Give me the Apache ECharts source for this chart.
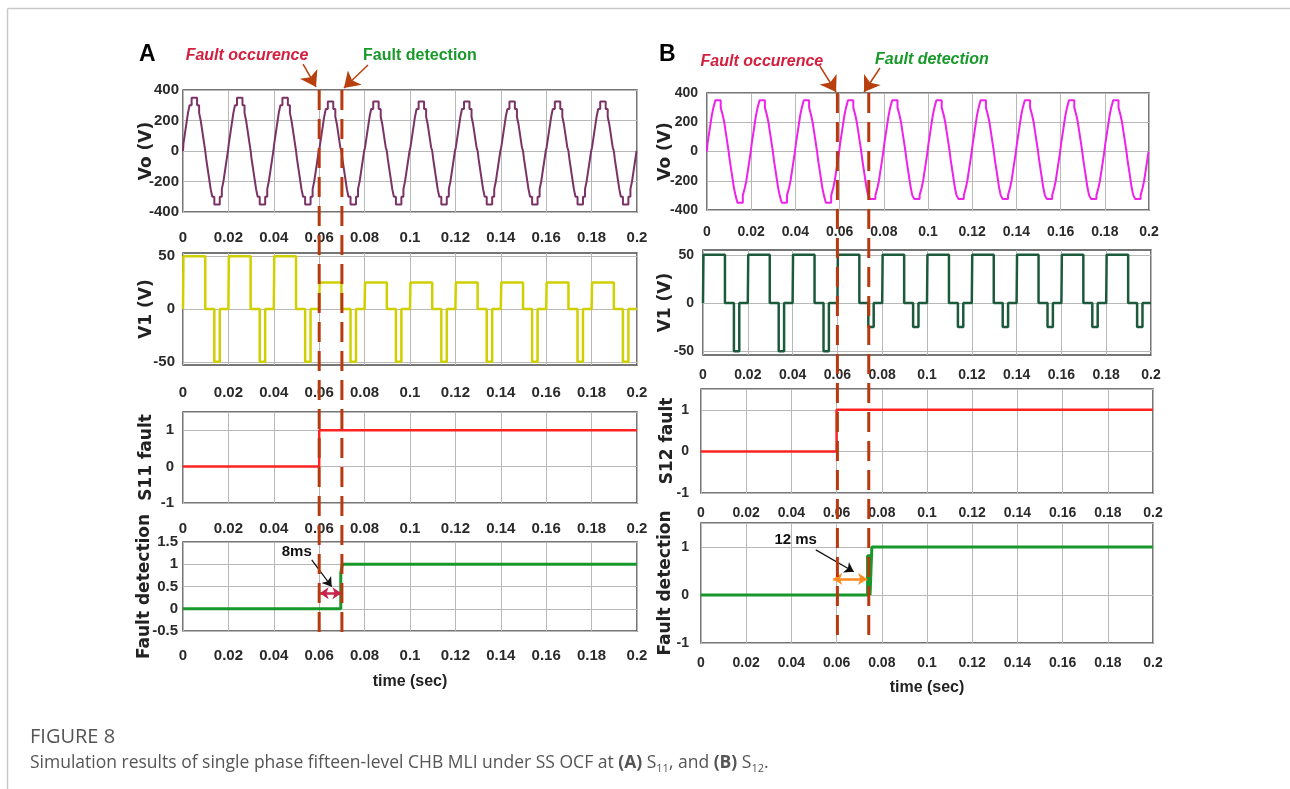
<!DOCTYPE html>
<html>
<head>
<meta charset="utf-8">
<script src="https://cdn.jsdelivr.net/npm/echarts@6/dist/echarts.min.js"></script>
<style>
  html, body { margin: 0; padding: 0; background: #ffffff; }
  #chart { width: 1290px; height: 789px; }
</style>
</head>
<body>
<div id="chart"></div>
<script>
// ---- time base ----
const timeMin = 0;
const timeMax = 0.2;
const timeStep = 0.02;
const period = 0.02;          // 50 Hz
const cycleCount = 10;

// ---- 15-level staircase: switch-on instants in the first quarter cycle (s) and the level reached (V) ----
const stairOn = [0.0002, 0.0007, 0.0012, 0.0017, 0.0022, 0.0029, 0.0038];
const stairLevel = [50, 100, 150, 200, 250, 300, 350];

// ---- cell 1 output: edges inside one cycle (s) -> [+on, +off, -on, -off] ----
const v1Edges = [0.0002, 0.0098, 0.0138, 0.0162];
const v1Nominal = 50;

// cell 1 positive / negative level in each cycle (V)
const v1PosA = [50, 50, 50, 25, 25, 25, 25, 25, 25, 25];
const v1NegA = [-50, -50, -50, -50, -50, -50, -50, -50, -50, -50];
const v1PosB = [50, 50, 50, 50, 50, 50, 50, 50, 50, 50];
const v1NegB = [-50, -50, -50, -25, -25, -25, -25, -25, -25, -25];

// ---- fault instants ----
const faultTimeA = 0.06, detectTimeA = 0.07;
const faultTimeB = 0.06, detectTimeB = 0.074;

// ---- switch fault flags and detector outputs [t, value] ----
const s11Fault = [[0, 0], [0.06, 0], [0.06, 1], [0.2, 1]];
const detectA = [[0, 0], [0.0695, 0], [0.0695, 0.8], [0.0702, 0.8], [0.0702, 1], [0.2, 1]];
const s12Fault = [[0, 0], [0.06, 0], [0.06, 1], [0.2, 1]];
const detectB = [[0, 0], [0.0737, 0], [0.0737, 0.82], [0.0748, 0.82], [0.0748, 0], [0.0756, 0], [0.0756, 1], [0.2, 1]];

// ---- tick labels ----
const v1Ticks = [-50, 0, 50];

// ---------- waveform assembly ----------
function stairAt(tc) {
  const half = period / 2;
  const sign = tc < half ? 1 : -1;
  const u = tc < half ? tc : tc - half;
  const d = Math.min(u, half - u);
  let lvl = 0;
  for (let i = 0; i < stairOn.length; i++) if (d >= stairOn[i]) lvl = stairLevel[i];
  return sign * lvl;
}
function v1At(tc, pos, neg) {
  if (tc >= v1Edges[0] && tc < v1Edges[1]) return pos;
  if (tc >= v1Edges[2] && tc < v1Edges[3]) return neg;
  return 0;
}
// withStair=false -> cell 1 voltage, true -> total output voltage
function buildWave(posLv, negLv, withStair) {
  const half = period / 2;
  const offs = [0].concat(v1Edges);
  if (withStair) stairOn.forEach(s => offs.push(s, half - s, half + s, period - s));
  const uniq = Array.from(new Set(offs.map(o => +o.toFixed(6)))).sort((a, b) => a - b);
  const pts = [];
  for (let k = 0; k < cycleCount; k++) {
    const t0 = k * period;
    uniq.forEach(o => {
      const u = o + 1e-7;
      let v = v1At(u, posLv[k], negLv[k]);
      if (withStair) v += stairAt(u) - v1At(u, v1Nominal, -v1Nominal);
      pts.push([+(t0 + o).toFixed(6), v]);
    });
  }
  pts.push([timeMax, pts[pts.length - 1][1]]);
  return pts;
}

const voA = buildWave(v1PosA, v1NegA, true);
const v1A = buildWave(v1PosA, v1NegA, false);
const voB = buildWave(v1PosB, v1NegB, true);
const v1B = buildWave(v1PosB, v1NegB, false);

// ---------- styling ----------
const TICKF = "'Liberation Sans', Arial, sans-serif";
const WIDE = "'DejaVu Sans', Verdana, sans-serif";
const GRID_LINE = '#b8b8b8';
const BOX = '#4a4a4a';
const DASH = '#b9390f';
const ARROW = '#b8400f';

const fmt = v => String(+(+v).toFixed(2));
function labelStyle(margin, size) {
  return { fontFamily: TICKF, fontWeight: 'bold', fontSize: size, color: '#2a2a2a', margin: margin, formatter: fmt };
}

// overlay panels: y = 0 at the bottom of the lowest plot, 1 at the top of the upper plot
const ovMax = 1.1;
function overlayGrid(left, width, top, bottom) {
  const h = bottom - top;
  return { left: left, width: width, top: top - (ovMax - 1) * h, height: ovMax * h, show: false };
}
function box(left, width, top, height) {
  return { left: left, width: width, top: top, height: height, show: true, borderColor: BOX, borderWidth: 1.5, backgroundColor: 'transparent' };
}

const grids = [
  box(183, 454, 90, 122),   // 0  A Vo
  box(183, 454, 253, 112),  // 1  A V1
  box(183, 454, 412, 91),   // 2  A S11
  box(183, 454, 542, 89),   // 3  A detection
  overlayGrid(183, 454, 90, 637), // 4 A overlay
  box(707, 442, 93, 117),   // 5  B Vo
  box(703, 448, 250, 105),  // 6  B V1
  box(701, 452, 389, 104),  // 7  B S12
  box(701, 452, 523, 120),  // 8  B detection
  overlayGrid(703, 448, 93, 643)  // 9 B overlay
];

const SIZE_A = 15, SIZE_B = 14;
function xAx(gi, margin, size, extra) {
  return Object.assign({
    type: 'value', gridIndex: gi, min: timeMin, max: timeMax, interval: timeStep,
    axisLine: { show: false }, axisTick: { show: false },
    splitLine: { show: true, lineStyle: { color: GRID_LINE, width: 1 } },
    axisLabel: labelStyle(margin, size)
  }, extra || {});
}
function yAx(gi, min, max, interval, name, nameGap, margin, size, extra) {
  const o = {
    type: 'value', gridIndex: gi, min: min, max: max,
    name: name, nameLocation: 'middle', nameGap: nameGap, nameMoveOverlap: false,
    nameTextStyle: { fontFamily: WIDE, fontWeight: 'bold', fontSize: 17, color: '#222222' },
    axisLine: { show: false }, axisTick: { show: false },
    splitLine: { show: true, lineStyle: { color: GRID_LINE, width: 1 } },
    axisLabel: labelStyle(margin, size)
  };
  if (interval != null) o.interval = interval;
  return Object.assign(o, extra || {});
}
const hiddenX = gi => ({ type: 'value', gridIndex: gi, min: timeMin, max: timeMax, show: false, splitLine: { show: false } });
const hiddenY = gi => ({ type: 'value', gridIndex: gi, min: 0, max: ovMax, show: false, splitLine: { show: false } });

const timeName = (gap) => ({
  name: 'time (sec)', nameLocation: 'middle', nameGap: gap, nameMoveOverlap: false,
  nameTextStyle: { fontFamily: TICKF, fontWeight: 'bold', fontSize: 16, color: '#222222' }
});

const xAxes = [
  xAx(0, 18, SIZE_A), xAx(1, 20, SIZE_A), xAx(2, 18, SIZE_A), xAx(3, 17, SIZE_A, timeName(43)), hiddenX(4),
  xAx(5, 15, SIZE_B), xAx(6, 13, SIZE_B), xAx(7, 13, SIZE_B), xAx(8, 13, SIZE_B, timeName(37)), hiddenX(9)
];
const customV1 = (margin, size) => ({ axisLabel: Object.assign(labelStyle(margin, size), { customValues: v1Ticks }), axisTick: { show: false, customValues: v1Ticks } });
const noTop = (margin, size) => ({ axisLabel: Object.assign(labelStyle(margin, size), { showMaxLabel: false }) });
const yAxes = [
  yAx(0, -400, 400, 200, 'Vo (V)', 28, 4, SIZE_A),
  yAx(1, -53, 53, null, 'V1 (V)', 28, 8, SIZE_A, customV1(8, SIZE_A)),
  yAx(2, -1, 1.5, 1, 'S11 fault', 28, 9, SIZE_A, noTop(9, SIZE_A)),
  yAx(3, -0.5, 1.5, 0.5, 'Fault detection', 30, 5, SIZE_A),
  hiddenY(4),
  yAx(5, -400, 400, 200, 'Vo (V)', 33, 9, SIZE_B),
  yAx(6, -54, 55, null, 'V1 (V)', 29, 9, SIZE_B, customV1(9, SIZE_B)),
  yAx(7, -1, 1.5, 1, 'S12 fault', 25, 12, SIZE_B, noTop(12, SIZE_B)),
  yAx(8, -1, 1.5, 1, 'Fault detection', 27, 12, SIZE_B, noTop(12, SIZE_B)),
  hiddenY(9)
];

function wave(idx, data, color, width) {
  return { type: 'line', xAxisIndex: idx, yAxisIndex: idx, data: data, step: 'end', symbol: 'none',
           lineStyle: { color: color, width: width }, silent: true, z: 3 };
}
function flat(idx, data, color, width) {
  return { type: 'line', xAxisIndex: idx, yAxisIndex: idx, data: data, symbol: 'none',
           lineStyle: { color: color, width: width }, silent: true, z: 3 };
}
function dashLine(idx, t) {
  return { type: 'line', xAxisIndex: idx, yAxisIndex: idx, data: [[t, 1], [t, 0]], symbol: 'none', clip: false,
           lineStyle: { color: DASH, width: 3, type: [20, 9] }, silent: true, z: 6 };
}
function note(coord, text, color, italic, size) {
  return { coord: coord, label: { show: true, position: 'inside', formatter: text, color: color,
           fontFamily: TICKF, fontWeight: 'bold', fontStyle: italic ? 'italic' : 'normal', fontSize: size || 16 } };
}
function arrowPair(from, to, color, width, both) {
  return [
    { coord: from, symbol: both ? 'arrow' : 'none', lineStyle: { color: color, width: width, type: 'solid' } },
    { coord: to, symbol: 'arrow' }
  ];
}
const markPt = (data) => ({ silent: true, symbol: 'circle', symbolSize: 0, data: data, animation: false });
const markLn = (data, size) => ({ silent: true, symbolSize: size, label: { show: false }, data: data, animation: false });

// ---- panel A ----
const dashA1 = dashLine(4, faultTimeA);
dashA1.markPoint = markPt([
  note([0.0282, 1.0622], 'Fault occurence', '#d3203f', true),
  note([0.1044, 1.0622], 'Fault detection', '#18992a', false)
]);
dashA1.markLine = markLn([
  arrowPair([0.0529, 1.0475], [0.0586, 1.0055], ARROW, 1.5, false),
  arrowPair([0.0815, 1.0457], [0.0709, 1.0037], ARROW, 1.5, false)
], 15);
const dashA2 = dashLine(4, detectTimeA);

const detASeries = flat(3, detectA, '#17982a', 3);
detASeries.markLine = markLn([
  arrowPair([0.0602, 0.347], [0.0698, 0.347], '#c8254c', 2.5, true),
  arrowPair([0.0567, 1.096], [0.0655, 0.496], '#111111', 1.2, false)
], 9);
detASeries.markPoint = markPt([note([0.0501, 1.28], '8ms', '#111111', false, 15)]);

// ---- panel B ----
const dashB1 = dashLine(9, faultTimeB);
dashB1.markPoint = markPt([
  note([0.0263, 1.058], 'Fault occurence', '#d3203f', true),
  note([0.1022, 1.06], 'Fault detection', '#18992a', true)
]);
dashB1.markLine = markLn([
  arrowPair([0.0522, 1.049], [0.0594, 1.0018], ARROW, 1.5, false),
  arrowPair([0.0790, 1.0455], [0.0719, 1.0018], ARROW, 1.5, false)
], 15);
const dashB2 = dashLine(9, detectTimeB);

const detBSeries = flat(8, detectB, '#17982a', 3);
detBSeries.markLine = markLn([
  arrowPair([0.0585, 0.333], [0.0735, 0.333], '#ff8a1e', 2.5, true),
  arrowPair([0.0508, 0.94], [0.0676, 0.485], '#111111', 1.2, false)
], 9);
detBSeries.markPoint = markPt([note([0.0419, 1.146], '12 ms', '#111111', false, 15)]);

const series = [
  wave(0, voA, '#7b3366', 2),
  wave(1, v1A, '#d0d000', 2.5),
  flat(2, s11Fault, '#ff2222', 2.5),
  detASeries,
  dashA1, dashA2,
  wave(5, voB, '#ee22ea', 2),
  wave(6, v1B, '#1c5a3c', 2.5),
  flat(7, s12Fault, '#ff2222', 2.5),
  detBSeries,
  dashB1, dashB2
];

const CAPTION = "'Open Sans', 'Noto Sans', sans-serif";
const graphic = [
  { type: 'line', shape: { x1: 7.5, y1: 8.5, x2: 1290, y2: 8.5 }, style: { stroke: '#c9c9c9', lineWidth: 1.5 }, silent: true },
  { type: 'line', shape: { x1: 7.5, y1: 8.5, x2: 7.5, y2: 789 }, style: { stroke: '#c9c9c9', lineWidth: 1.5 }, silent: true },
  { type: 'text', left: 139, top: 43, style: { text: 'A', font: "bold 23px 'Liberation Sans', Arial, sans-serif", fill: '#000000' } },
  { type: 'text', left: 659, top: 43, style: { text: 'B', font: "bold 23px 'Liberation Sans', Arial, sans-serif", fill: '#000000' } },
  { type: 'text', left: 30, top: 727, style: { text: 'FIGURE 8', font: "20px " + CAPTION, fill: '#555555' } },
  { type: 'text', left: 30, top: 752, style: {
      text: 'Simulation results of single phase fifteen-level CHB MLI under SS OCF at {b|(A)} S{s|11}, and {b|(B)} S{s|12}.',
      font: "17.5px " + CAPTION, fill: '#555555', lineHeight: 22,
      rich: {
        b: { fontWeight: 'bold', fontFamily: CAPTION, fontSize: 17.5, fill: '#555555', lineHeight: 22 },
        s: { fontFamily: CAPTION, fontSize: 11, fill: '#555555', lineHeight: 13, verticalAlign: 'bottom' }
      } } }
];

const chart = echarts.init(document.getElementById('chart'), null, { renderer: 'canvas' });
chart.setOption({
  animation: false,
  backgroundColor: '#ffffff',
  grid: grids,
  xAxis: xAxes,
  yAxis: yAxes,
  series: series,
  graphic: graphic
});
</script>
</body>
</html>
